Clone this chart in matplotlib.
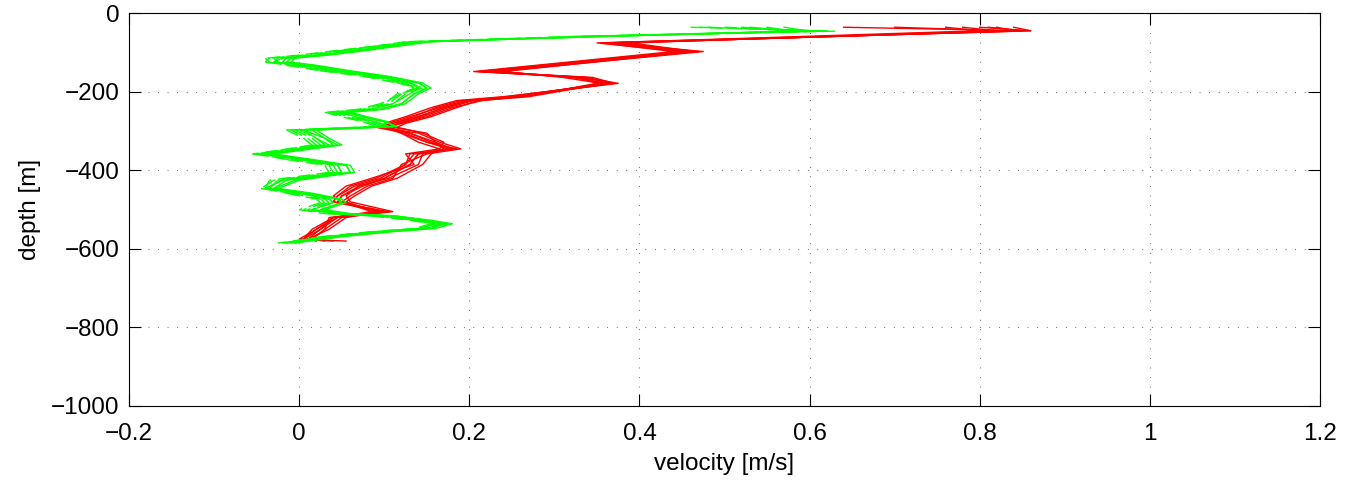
import numpy as np
import matplotlib
matplotlib.use("Agg")
from matplotlib import pyplot as plt
from matplotlib.collections import LineCollection

plt.rcParams["font.family"] = ["Liberation Sans", "DejaVu Sans"]

# red profiles share one depth axis
red_depth = [-35, -44, -75, -97, -148, -163, -178, -212, -222, -240, -263, -280, -290, -305,
             -328, -345, -358, -385, -420, -440, -465, -480, -505, -520, -550, -575, -580]
red_profiles = [
    [0.80, 0.86, 0.36, 0.47, 0.215, 0.33, 0.37, 0.25, 0.20, 0.17, 0.14, 0.11, 0.10, 0.13,
     0.155, 0.18, 0.14, 0.13, 0.10, 0.07, 0.05, 0.045, 0.10, 0.04, 0.025, 0.005, 0.00],
    [0.82, 0.84, 0.38, 0.46, 0.235, 0.32, 0.36, 0.27, 0.21, 0.185, 0.155, 0.125, 0.115, 0.145,
     0.17, 0.165, 0.155, 0.145, 0.115, 0.085, 0.065, 0.055, 0.09, 0.055, 0.035, 0.01, 0.02],
    [0.64, 0.85, 0.35, 0.45, 0.22, 0.34, 0.365, 0.245, 0.195, 0.165, 0.13, 0.105, 0.105, 0.12,
     0.15, 0.175, 0.135, 0.125, 0.095, 0.065, 0.045, 0.04, 0.105, 0.045, 0.02, 0.00, 0.055],
    [0.78, 0.82, 0.39, 0.465, 0.24, 0.31, 0.355, 0.26, 0.215, 0.18, 0.15, 0.12, 0.095, 0.14,
     0.165, 0.19, 0.15, 0.12, 0.11, 0.08, 0.06, 0.05, 0.095, 0.035, 0.03, 0.015, 0.01],
    [0.76, 0.80, 0.355, 0.44, 0.205, 0.335, 0.375, 0.24, 0.185, 0.155, 0.125, 0.10, 0.10, 0.12,
     0.14, 0.165, 0.125, 0.135, 0.085, 0.055, 0.04, 0.05, 0.085, 0.04, 0.015, 0.005, 0.00],
    [0.84, 0.86, 0.37, 0.455, 0.22, 0.325, 0.36, 0.25, 0.20, 0.17, 0.14, 0.12, 0.105, 0.13,
     0.16, 0.18, 0.14, 0.13, 0.10, 0.075, 0.05, 0.045, 0.10, 0.045, 0.025, 0.01, 0.03],
    [0.70, 0.83, 0.365, 0.475, 0.23, 0.33, 0.35, 0.265, 0.205, 0.175, 0.145, 0.115, 0.11, 0.15,
     0.16, 0.17, 0.145, 0.14, 0.105, 0.07, 0.055, 0.06, 0.11, 0.05, 0.03, 0.015, 0.005],
    [0.81, 0.85, 0.375, 0.45, 0.21, 0.345, 0.37, 0.255, 0.19, 0.16, 0.135, 0.11, 0.09, 0.125,
     0.15, 0.185, 0.13, 0.125, 0.09, 0.06, 0.045, 0.04, 0.095, 0.04, 0.02, 0.005, 0.04],
]

green_depth = [-35, -45, -58, -72, -94, -106, -114, -124, -132, -146, -160, -177, -190,
               -205, -230, -244, -252, -266, -276, -288, -297, -318, -335, -358, -372,
               -387, -405, -425, -446, -458, -473, -482, -500, -510, -516, -527, -536,
               -548, -556, -569, -585]
green_profiles = [
    [0.48, 0.60, 0.35, 0.14, 0.06, 0.015, -0.025, -0.03, 0.0, 0.04, 0.09, 0.13, 0.145,
     0.125, 0.11, 0.085, 0.045, 0.07, 0.09, 0.105, 0.0, 0.02, 0.03, -0.05, 0.0,
     0.045, 0.05, -0.02, -0.04, 0.0, 0.035, 0.04, 0.015, 0.045, 0.10, 0.145, 0.17,
     0.15, 0.10, 0.04, -0.02],
    [0.52, 0.59, 0.36, 0.15, 0.075, 0.03, -0.01, -0.015, 0.015, 0.055, 0.10, 0.14, 0.15,
     0.135, 0.12, 0.095, 0.055, 0.08, 0.10, 0.115, 0.015, 0.03, 0.045, -0.035, 0.01,
     0.055, 0.06, -0.005, -0.03, 0.01, 0.045, 0.05, 0.025, 0.055, 0.11, 0.155, 0.18,
     0.16, 0.11, 0.05, -0.005],
    [0.46, 0.62, 0.33, 0.13, 0.05, 0.005, -0.035, -0.04, -0.01, 0.03, 0.08, 0.12, 0.14,
     0.115, 0.10, 0.075, 0.035, 0.06, 0.08, 0.095, -0.01, 0.01, 0.02, -0.055, -0.01,
     0.035, 0.04, -0.03, -0.045, -0.01, 0.025, 0.03, 0.005, 0.035, 0.09, 0.135, 0.16,
     0.14, 0.09, 0.03, -0.025],
    [0.55, 0.58, 0.37, 0.145, 0.065, 0.025, -0.015, -0.02, 0.01, 0.045, 0.095, 0.14, 0.15,
     0.135, 0.12, 0.095, 0.055, 0.08, 0.10, 0.10, 0.005, 0.03, 0.04, -0.045, 0.01,
     0.055, 0.06, -0.015, -0.03, 0.01, 0.045, 0.05, 0.025, 0.055, 0.105, 0.135, 0.16,
     0.14, 0.09, 0.03, -0.015],
    [0.50, 0.61, 0.34, 0.135, 0.045, 0.0, -0.04, -0.035, -0.015, 0.025, 0.075, 0.115, 0.14,
     0.12, 0.095, 0.07, 0.03, 0.055, 0.075, 0.09, -0.015, 0.005, 0.015, -0.05, -0.015,
     0.03, 0.035, -0.035, -0.04, -0.015, 0.02, 0.025, 0.0, 0.03, 0.085, 0.13, 0.155,
     0.135, 0.085, 0.025, -0.02],
    [0.57, 0.60, 0.36, 0.14, 0.07, 0.02, -0.02, -0.03, 0.005, 0.045, 0.09, 0.13, 0.14,
     0.13, 0.11, 0.085, 0.05, 0.07, 0.09, 0.105, 0.005, 0.02, 0.035, -0.045, 0.0,
     0.045, 0.05, -0.02, -0.04, 0.0, 0.035, 0.04, 0.015, 0.045, 0.10, 0.145, 0.165,
     0.15, 0.10, 0.04, -0.015],
    [0.47, 0.63, 0.35, 0.125, 0.055, 0.01, -0.03, -0.025, -0.005, 0.035, 0.085, 0.125, 0.135,
     0.12, 0.105, 0.08, 0.04, 0.065, 0.085, 0.10, -0.005, 0.015, 0.025, -0.04, 0.005,
     0.04, 0.045, -0.025, -0.035, 0.005, 0.03, 0.035, 0.01, 0.04, 0.095, 0.14, 0.175,
     0.145, 0.095, 0.035, -0.02],
    [0.53, 0.58, 0.34, 0.155, 0.08, 0.035, -0.005, -0.01, 0.02, 0.06, 0.105, 0.145, 0.155,
     0.14, 0.125, 0.10, 0.06, 0.085, 0.105, 0.11, 0.02, 0.035, 0.05, -0.03, 0.015,
     0.06, 0.065, 0.0, -0.025, 0.015, 0.05, 0.055, 0.03, 0.06, 0.115, 0.15, 0.17,
     0.155, 0.105, 0.045, -0.01],
]
green_dashed = [True, False, True, False, True, False, True, False]

fig = plt.figure(figsize=(13.53, 4.82), dpi=100)
ax = fig.add_axes([0.0955, 0.158, 0.88, 0.814])

for xs in red_profiles:
    ax.plot(xs, red_depth, color="#ff0000", lw=1.0)

for xs, dashed in zip(green_profiles, green_dashed):
    if dashed:
        # dash pattern restarts on every segment, like the old MATLAB renderer
        pts = np.column_stack([xs, green_depth])
        segs = np.stack([pts[:-1], pts[1:]], axis=1)
        lc = LineCollection(segs, colors="#00ff00", linewidths=1.0,
                            linestyles=[(0, (9, 5))])
        ax.add_collection(lc)
    else:
        ax.plot(xs, green_depth, color="#00ff00", lw=1.0)

ax.set_xlim(-0.2, 1.2)
ax.set_ylim(-1000, 0)
ax.set_xticks(np.arange(-0.2, 1.21, 0.2))
ax.set_xticklabels(["\u22120.2", "0", "0.2", "0.4", "0.6", "0.8", "1", "1.2"])
ax.set_yticks(np.arange(-1000, 1, 200))
ax.set_yticklabels(["\u22121000", "\u2212800", "\u2212600", "\u2212400", "\u2212200", "0"])

ax.grid(True, color="#333333", linestyle=(0, (0.6, 8)), linewidth=0.8)
ax.tick_params(direction="in", length=8.5, width=0.8, top=True, right=True,
               labelsize=17.5)
ax.tick_params(axis="x", pad=12)
ax.tick_params(axis="y", pad=7)
for sp in ax.spines.values():
    sp.set_linewidth(0.8)

ax.set_xlabel("velocity [m/s]", fontsize=17.5, labelpad=6)
ax.set_ylabel("depth [m]", fontsize=17.5, labelpad=7)

fig.savefig("out.png", dpi=100)
